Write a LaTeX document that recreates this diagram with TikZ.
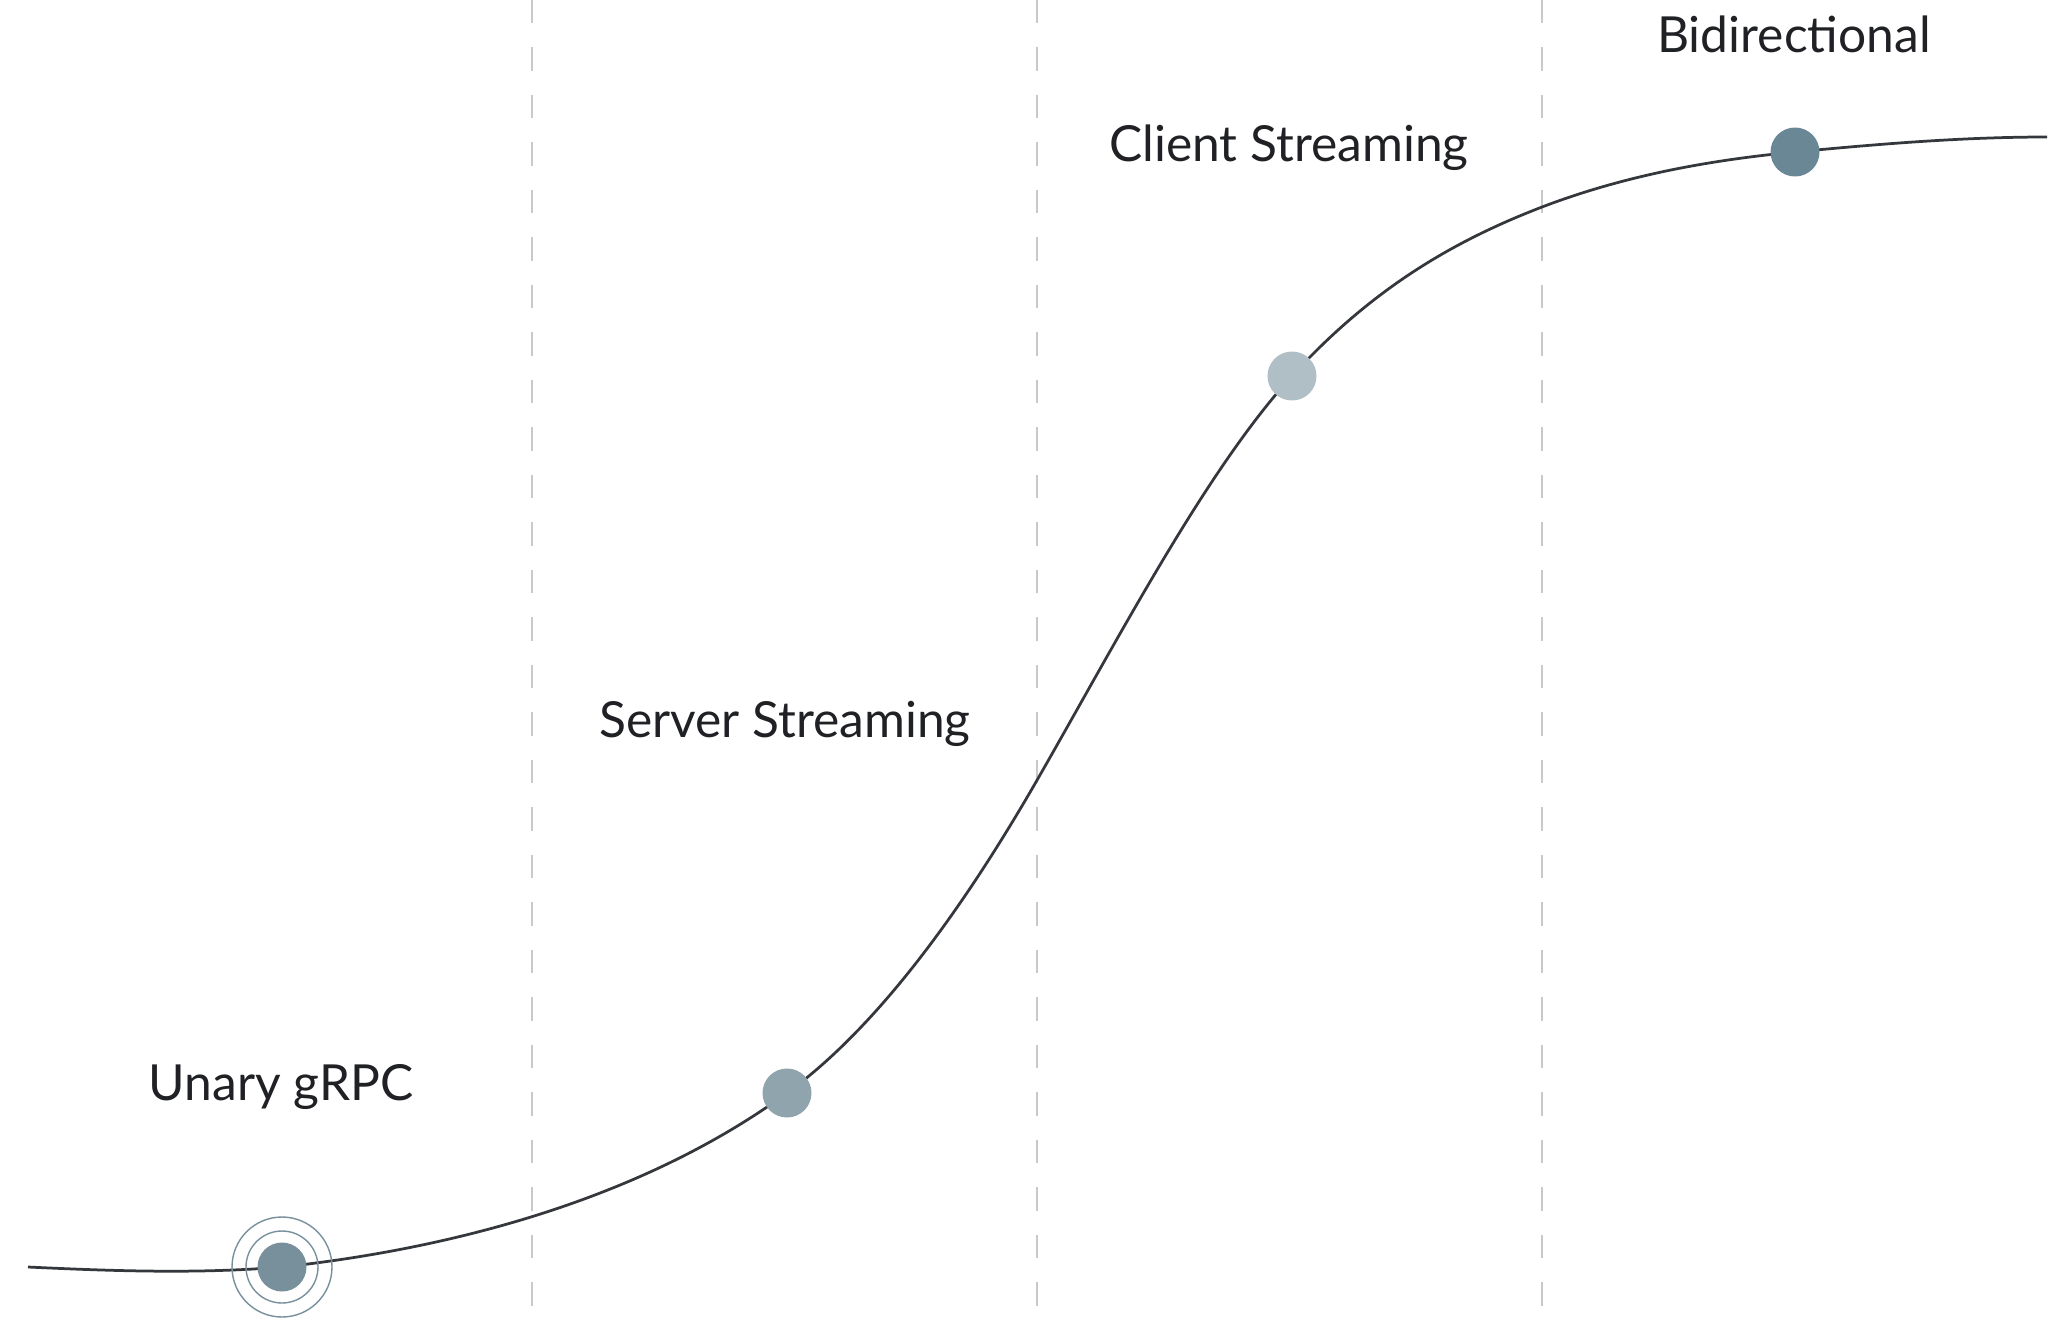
\documentclass[tikz,border=0pt]{standalone}
\usepackage{fontspec}
\setmainfont{Lato}
\usetikzlibrary{positioning}

\definecolor{ink}{HTML}{202124}
\definecolor{curvegray}{HTML}{34373C}
\definecolor{guidegray}{HTML}{C9C9C9}
\definecolor{unarycol}{HTML}{78909C}
\definecolor{servercol}{HTML}{90A4AE}
\definecolor{clientcol}{HTML}{B0BEC5}
\definecolor{bidicol}{HTML}{6A8796}

\begin{document}
\begin{tikzpicture}[x=0.02cm, y=-0.02cm,
  dot/.style={circle, inner sep=0pt, minimum size=0.98cm},
  ring/.style={circle, draw=unarycol, line width=0.028cm, inner sep=0pt},
  lbl/.style={anchor=base, text=ink, font=\fontsize{28.3}{30}\selectfont},
  guide/.style={draw=guidegray, line width=0.055cm, dash pattern=on 0.47cm off 0.48cm}]
\useasboundingbox (0,0) rectangle (2066,1325);
\fill [white] (0,0) rectangle (2066,1325);

% stage separators
\foreach \x in {532,1037,1542}
  \draw [guide] (\x,0) -- (\x,1325);

% points on the curve
\coordinate (c_start) at (28,1267);
\coordinate (c_u) at (282,1267);
\coordinate (c_s) at (787,1093);
\coordinate (c_mid) at (1040,775);
\coordinate (c_c) at (1292,376);
\coordinate (c_knee) at (1542,207);
\coordinate (c_b) at (1795,152);
\coordinate (c_end) at (2047,137);

\draw [curvegray, line width=0.055cm] (c_start)
  .. controls (113,1271) and (197,1274) .. (c_u)
  .. controls (450,1249) and (640,1200) .. (c_s)
  .. controls (871,1032) and (956,922) .. (c_mid)
  .. controls (1124,628) and (1208,468) .. (c_c)
  .. controls (1375,285) and (1459,239) .. (c_knee)
  .. controls (1626,175) and (1711,160) .. (c_b)
  .. controls (1879,144) and (1963,137) .. (c_end);

% stages
\node [ring, minimum size=2cm] (r_out) at (c_u) {};
\node [ring, minimum size=1.44cm] (r_in) at (c_u) {};
\node [dot, fill=unarycol] (unary) at (c_u) {};
\node [dot, fill=servercol] (server) at (c_s) {};
\node [dot, fill=clientcol] (client) at (c_c) {};
\node [dot, fill=bidicol] (bidi) at (c_b) {};

\node [lbl] (l_unary) at (281,1100) {Unary gRPC};
\node [lbl] (l_server) at (785,737) {Server Streaming};
\node [lbl] (l_client) at (1289,161) {Client Streaming};
\node [lbl] (l_bidi) at (1794,52) {Bidirectional};
\end{tikzpicture}
\end{document}
